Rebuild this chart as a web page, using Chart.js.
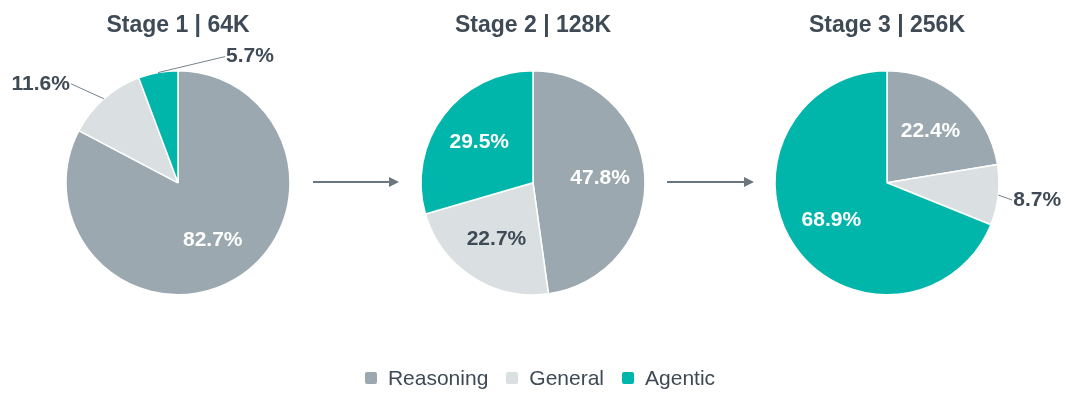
<!DOCTYPE html>
<html>
<head>
<meta charset="utf-8">
<script src="https://cdn.jsdelivr.net/npm/chart.js@4/dist/chart.umd.min.js"></script>
<style>
  html,body{margin:0;padding:0;background:#fff;}
  body{width:1080px;height:404px;position:relative;overflow:hidden;font-family:"Liberation Sans",Arial,sans-serif;}
  .pie{position:absolute;top:0;width:400px;height:340px;}
  #arrows{position:absolute;left:0;top:0;}
  #legend{position:absolute;left:0;width:1080px;top:366px;display:flex;justify-content:center;align-items:center;color:#3E4A55;font-size:21px;}
  #legend .item{display:flex;align-items:center;margin:0 9px;}
  #legend .box{width:12px;height:12px;border-radius:2px;margin-right:11px;}
</style>
</head>
<body>
<canvas id="arrows" width="1080" height="404"></canvas>
<div class="pie" id="p0"><canvas id="c0"></canvas></div>
<div class="pie" id="p1"><canvas id="c1"></canvas></div>
<div class="pie" id="p2"><canvas id="c2"></canvas></div>
<div id="legend"></div>
<script>
// ---- data ----
const categories = ['Reasoning', 'General', 'Agentic'];
const stageTitles = ['Stage 1 | 64K', 'Stage 2 | 128K', 'Stage 3 | 256K'];
const stage1Values = [82.7, 11.6, 5.7];
const stage2Values = [47.8, 22.7, 29.5];
const stage3Values = [22.4, 8.7, 68.9];

// ---- style ----
const sliceColors = ['#9CA8AF', '#DADFE1', '#00B5A9'];
const insideTextColors = ['#FFFFFF', '#3E4A55', '#FFFFFF'];
const darkText = '#3E4A55';
const centersX = [178, 533, 887];
const outsideLabels = [
  {1: {dx: -33, dy: -15}, 2: {dx: 67, dy: -16}},
  {},
  {1: {dx: 14, dy: 5}}
];

const sliceLabelPlugin = {
  id: 'sliceLabels',
  afterDatasetsDraw(chart, args, opts) {
    const ctx = chart.ctx;
    const meta = chart.getDatasetMeta(0);
    const data = chart.data.datasets[0].data;
    ctx.save();
    ctx.font = 'bold 21px "Liberation Sans", Arial, sans-serif';
    ctx.textBaseline = 'middle';
    meta.data.forEach((arc, i) => {
      const p = arc.getProps(['x', 'y', 'startAngle', 'endAngle', 'outerRadius'], true);
      const mid = (p.startAngle + p.endAngle) / 2;
      const txt = data[i].toFixed(1) + '%';
      const out = (opts.outside || {})[i];
      if (out) {
        const ex = p.x + Math.cos(mid) * p.outerRadius;
        const ey = p.y + Math.sin(mid) * p.outerRadius;
        const lx = ex + out.dx, ly = ey + out.dy;
        ctx.strokeStyle = '#75828B';
        ctx.lineWidth = 1;
        ctx.beginPath();
        ctx.moveTo(ex, ey);
        ctx.lineTo(lx, ly);
        ctx.stroke();
        ctx.fillStyle = darkText;
        ctx.textAlign = out.dx < 0 ? 'right' : 'left';
        ctx.fillText(txt, lx + (out.dx < 0 ? -1 : 1), ly);
      } else {
        const r = p.outerRadius * 0.6;
        ctx.fillStyle = insideTextColors[i];
        ctx.textAlign = 'center';
        ctx.fillText(txt, p.x + Math.cos(mid) * r, p.y + Math.sin(mid) * r);
      }
    });
    ctx.restore();
  }
};

const allValues = [stage1Values, stage2Values, stage3Values];
allValues.forEach((vals, k) => {
  const wrap = document.getElementById('p' + k);
  wrap.style.left = (centersX[k] - 200) + 'px';
  new Chart(document.getElementById('c' + k), {
    type: 'pie',
    data: {
      labels: categories,
      datasets: [{
        data: vals,
        backgroundColor: sliceColors,
        borderColor: '#FFFFFF',
        borderWidth: 1.5,
        radius: 112
      }]
    },
    options: {
      responsive: true,
      maintainAspectRatio: false,
      animation: false,
      layout: {padding: {top: 0, bottom: 22, left: 0, right: 0}},
      plugins: {
        legend: {display: false},
        tooltip: {enabled: false},
        title: {
          display: true,
          text: stageTitles[k],
          color: darkText,
          font: {family: '"Liberation Sans", Arial, sans-serif', size: 23, weight: 'bold'},
          padding: {top: 12, bottom: 8}
        },
        sliceLabels: {outside: outsideLabels[k]}
      }
    },
    plugins: [sliceLabelPlugin]
  });
});

// arrows
(function(){
  const c = document.getElementById('arrows');
  const ctx = c.getContext('2d');
  ctx.strokeStyle = '#6B7780';
  ctx.fillStyle = '#6B7780';
  ctx.lineWidth = 2;
  [[313, 399], [667, 754]].forEach(([a, b]) => {
    const y = 182;
    ctx.beginPath(); ctx.moveTo(a, y); ctx.lineTo(b - 8, y); ctx.stroke();
    ctx.beginPath(); ctx.moveTo(b, y); ctx.lineTo(b - 10, y - 5); ctx.lineTo(b - 10, y + 5); ctx.closePath(); ctx.fill();
  });
})();

// legend
const legend = document.getElementById('legend');
categories.forEach((name, i) => {
  const it = document.createElement('div');
  it.className = 'item';
  it.innerHTML = '<span class="box" style="background:' + sliceColors[i] + '"></span><span>' + name + '</span>';
  legend.appendChild(it);
});
</script>
</body>
</html>
